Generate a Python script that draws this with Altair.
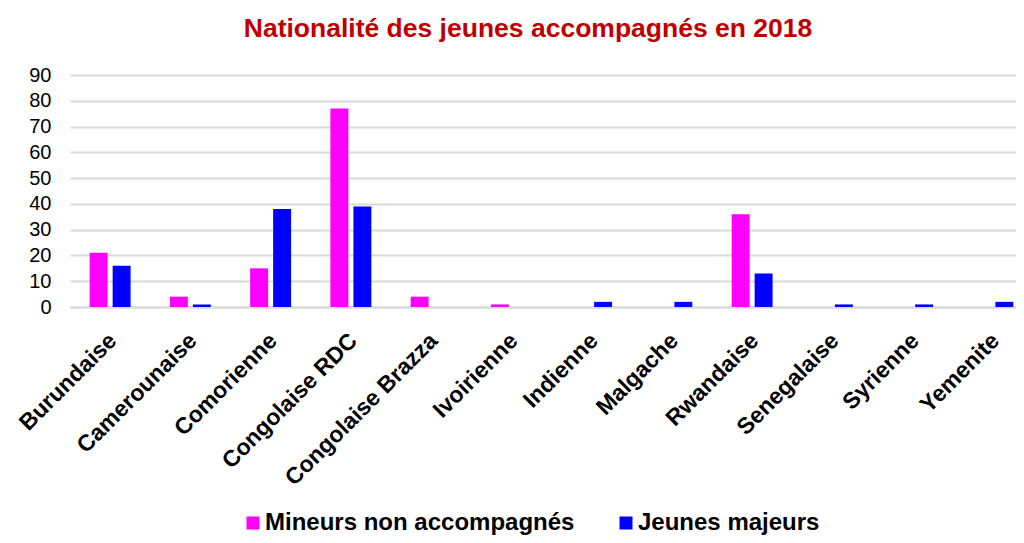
import altair as alt
import pandas as pd

categories = ["Burundaise", "Camerounaise", "Comorienne", "Congolaise RDC",
              "Congolaise Brazza", "Ivoirienne", "Indienne", "Malgache",
              "Rwandaise", "Senegalaise", "Syrienne", "Yemenite"]
series = ["Mineurs non accompagnés", "Jeunes majeurs"]
mineurs = [21, 4, 15, 77, 4, 1, 0, 0, 36, 0, 0, 0]
majeurs = [16, 1, 38, 39, 0, 0, 2, 2, 13, 1, 1, 2]
colors = ["#FF00FF", "#0000FF"]
y_ticks = [0, 10, 20, 30, 40, 50, 60, 70, 80, 90]

rows = []
for c, a, b in zip(categories, mineurs, majeurs):
    rows.append({"Nationalité": c, "Série": series[0], "Valeur": a})
    rows.append({"Nationalité": c, "Série": series[1], "Valeur": b})
df = pd.DataFrame(rows)

FONT = "Liberation Sans"

chart = alt.Chart(df).mark_bar().encode(
    x=alt.X("Nationalité:N", sort=categories, title=None,
            scale=alt.Scale(paddingInner=0.49, paddingOuter=0.245, range=[0, 963]),
            axis=alt.Axis(labelAngle=-45, labelFontSize=23, labelFontWeight="bold",
                          labelColor="#000000", labelFont=FONT, ticks=False,
                          domainColor="#d9d9d9", domainWidth=2, labelPadding=22,
                          labelOffset=-5, labelLimit=400)),
    xOffset=alt.XOffset("Série:N", sort=series,
                        scale=alt.Scale(paddingInner=0.22, paddingOuter=0)),
    y=alt.Y("Valeur:Q", title=None,
            scale=alt.Scale(domain=[0, 90], nice=False),
            axis=alt.Axis(values=y_ticks, domain=False, ticks=False,
                          labelFontSize=20, labelColor="#000000", labelFont=FONT,
                          labelPadding=19, gridColor="#d9d9d9", gridWidth=2)),
    color=alt.Color("Série:N", sort=series,
                    scale=alt.Scale(domain=series, range=colors),
                    legend=alt.Legend(title=None, orient="none", legendX=171, legendY=436,
                                      direction="horizontal", columns=2,
                                      symbolType="square", symbolSize=169,
                                      symbolStrokeWidth=0,
                                      labelFontSize=24, labelFontWeight="bold",
                                      labelFont=FONT, labelColor="#000000",
                                      labelOffset=0, columnPadding=39,
                                      labelLimit=500)),
).properties(
    width=946,
    height=232,
    title=alt.TitleParams("Nationalité des jeunes accompagnés en 2018",
                          font=FONT, fontSize=26.5, fontWeight="bold",
                          color="#C00000", frame="group", anchor="middle",
                          offset=23, dx=-15),
    autosize=alt.AutoSizeParams(type="none"),
    padding={"left": 62, "top": 67, "right": 0, "bottom": 228},
).configure_view(stroke=None)

chart.save("out.html", embed_options={"renderer": "svg", "actions": False})
